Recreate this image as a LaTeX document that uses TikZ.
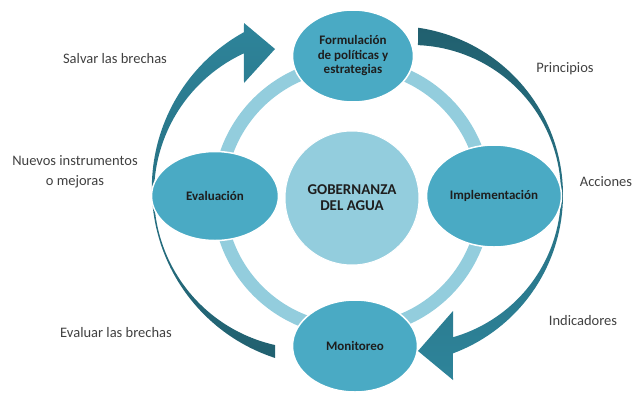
\documentclass[tikz,border=0pt]{standalone}
\usepackage{fontspec}
\setmainfont{Carlito}
\usetikzlibrary{shapes.geometric}
\definecolor{ellfill}{HTML}{4AAAC4}
\definecolor{ringcol}{HTML}{93CDDD}
\definecolor{centfill}{HTML}{93CDDD}
\definecolor{arrdark}{HTML}{21606F}
\definecolor{arrlight}{HTML}{2E849A}
\definecolor{txt}{HTML}{1E1E1E}
\tikzset{
  stage/.style={ellipse, fill=ellfill, draw=white, line width=1.5pt, inner sep=0pt,
    align=center, text=txt, font=\fontsize{13}{14.5}\selectfont\bfseries},
  hub/.style={circle, fill=centfill, draw=white, line width=1pt, inner sep=0pt,
    minimum size=134pt, align=center, text=txt, font=\fontsize{15}{16}\selectfont\bfseries},
  sidelabel/.style={align=center, text=txt!85!white, font=\fontsize{14.5}{20}\selectfont},
  ringstyle/.style={draw=ringcol, line width=13pt},
}
\begin{document}
\begin{tikzpicture}[x=1pt, y=-1pt]
\useasboundingbox (0,0) rectangle (634,394);
% big curved arrows
\path[top color=arrdark, bottom color=arrlight]
  plot[domain=-81.8:69.6, samples=80] ({394+169*cos(\x)},{195+169*sin(\x)})
  -- (453,380) -- (418,351) -- (453,311)
  -- plot[domain=74.0:-87.7, samples=80] ({412+149*cos(\x)},{194+149*sin(\x)})
  -- cycle;
\path[top color=arrlight, bottom color=arrdark]
  plot[domain=108.0:241.1, samples=80] ({330.2+178.4*cos(\x)},{188.3+178.4*sin(\x)})
  -- (244,23) -- (275,49) -- (244,83)
  -- plot[domain=245.2:102.6, samples=80] ({308.9+154.9*cos(\x)},{193.9+154.9*sin(\x)})
  -- cycle;
% ring
\draw[ringstyle] (352,197) circle[radius=133pt];
% hub
\node[hub] (hub) at (352,198) {GOBERNANZA\\DEL AGUA};
% stages
\node[stage, minimum width=121pt, minimum height=92pt] (form) at (353,56) {Formulación\\de políticas y\\estrategias};
\node[stage, minimum width=135pt, minimum height=102pt] (impl) at (494,196) {Implementación};
\node[stage, minimum width=125pt, minimum height=92pt] (moni) at (355,346) {Monitoreo};
\node[stage, minimum width=127pt, minimum height=89pt] (eval) at (215,196) {Evaluación};
% side labels
\node[sidelabel] (salvar) at (115,59) {Salvar las brechas};
\node[sidelabel] (nuevos) at (75,172) {Nuevos instrumentos\\o mejoras};
\node[sidelabel] (evaluar) at (116,333) {Evaluar las brechas};
\node[sidelabel] (princ) at (565,69) {Principios};
\node[sidelabel] (acc) at (606,182) {Acciones};
\node[sidelabel] (indic) at (583,321) {Indicadores};
\end{tikzpicture}
\end{document}
